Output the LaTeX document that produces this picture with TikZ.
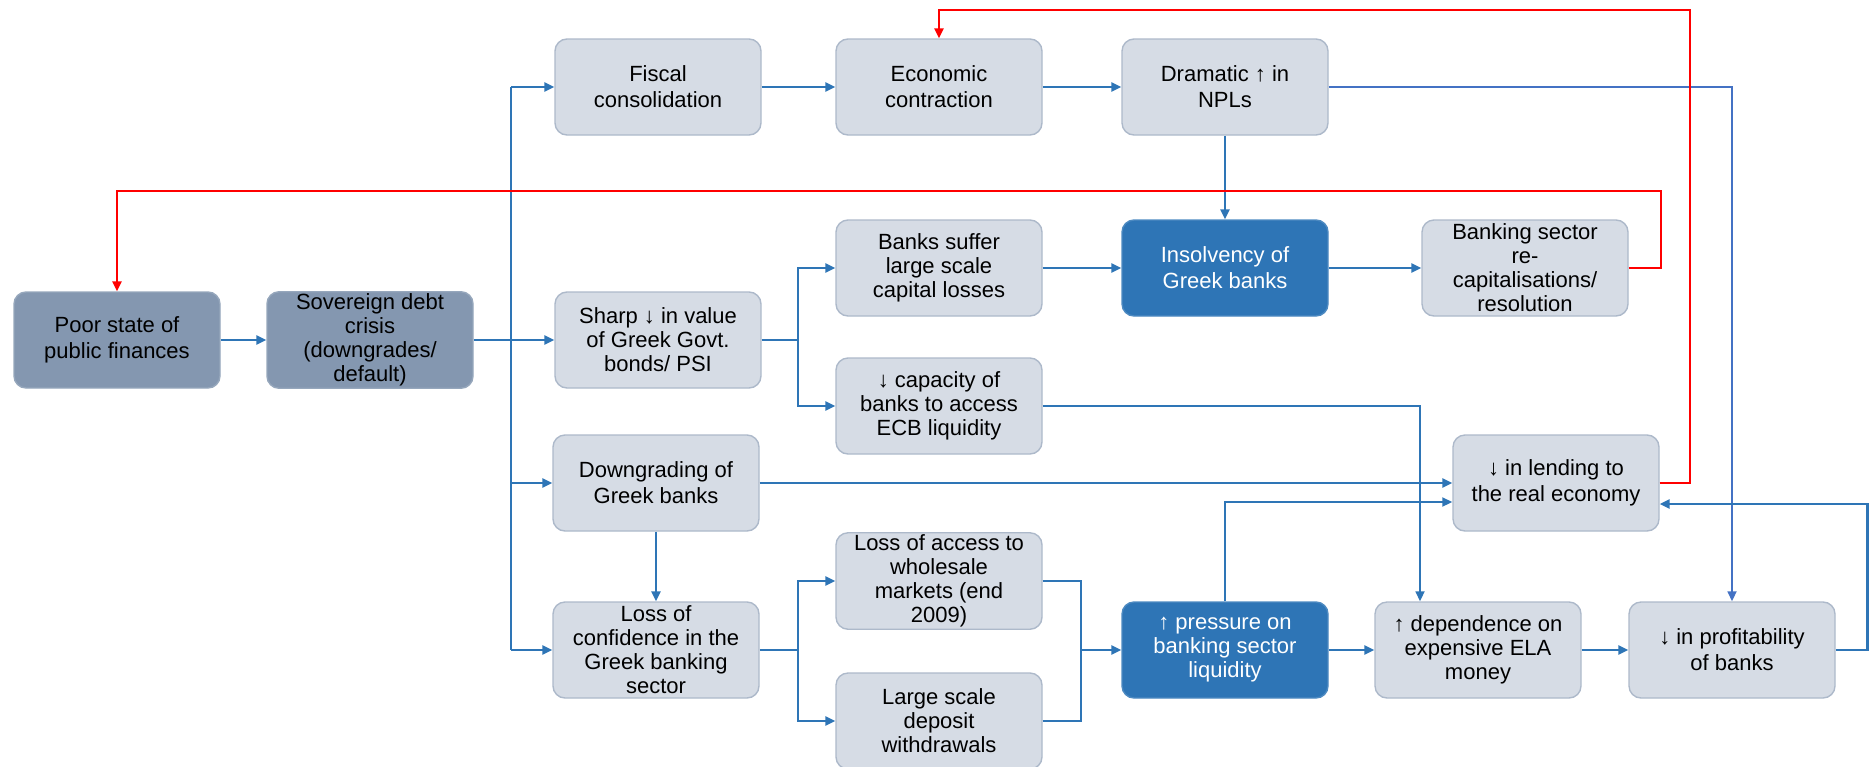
\documentclass[tikz,border=0pt]{standalone}
\usepackage{fontspec}
\setmainfont{Liberation Sans}
\usetikzlibrary{arrows.meta}
\definecolor{cellfill}{HTML}{D6DCE5}
\definecolor{cellline}{HTML}{ADB9CA}
\definecolor{slate}{HTML}{8497B0}
\definecolor{deepblue}{HTML}{2E75B6}
\definecolor{paleblue}{HTML}{4472C4}
\definecolor{loopred}{HTML}{FF0000}

\begin{document}
\begin{tikzpicture}[x=0.5pt,y=-0.5pt,
    cell/.style={draw=cellline,fill=cellfill,rounded corners=6pt,line width=0.7pt,
      minimum width=103pt,minimum height=48pt,inner sep=1pt,align=center,
      font=\fontsize{11}{13}\selectfont},
    tight/.style={font=\fontsize{11}{12}\selectfont},
    root/.style={cell,fill=slate,draw=slate!85!white},
    hot/.style={cell,fill=deepblue,draw=deepblue!85!white,text=white},
    link/.style={draw=deepblue,line width=1.4pt,-{Triangle[length=5pt,width=4.5pt]}},
    fine/.style={link,draw=paleblue,line width=0.9pt},
    loop/.style={draw=loopred,line width=1.2pt,-{Triangle[length=5pt,width=4.5pt]}}]
  \useasboundingbox (0,0) rectangle (1874,766);

  \node[root] (poor) at (117,340) {Poor state of\\public finances};
  \node[root,tight] (sov) at (370,340) {Sovereign debt\\crisis\\(downgrades/\\default)};
  \node[cell] (fiscal) at (658,87) {Fiscal\\consolidation};
  \node[cell] (econ) at (939,87) {Economic\\contraction};
  \node[cell] (npl) at (1225,87) {Dramatic ↑ in\\NPLs};
  \node[cell,tight] (sharp) at (658,340) {Sharp ↓ in value\\of Greek Govt.\\bonds/ PSI};
  \node[cell,tight] (losses) at (939,268) {Banks suffer\\large scale\\capital losses};
  \node[hot] (insolv) at (1225,268) {Insolvency of\\Greek banks};
  \node[cell,tight] (recap) at (1525,268) {Banking sector\\re-\\capitalisations/\\resolution};
  \node[cell,tight] (ecb) at (939,406) {↓ capacity of\\banks to access\\ECB liquidity};
  \node[cell] (downg) at (656,483) {Downgrading of\\Greek banks};
  \node[cell] (lending) at (1556,483) {↓ in lending to\\the real economy};
  \node[cell,tight] (conf) at (656,650) {Loss of\\confidence in the\\Greek banking\\sector};
  \node[cell,tight] (whole) at (939,581) {Loss of access to\\wholesale\\markets (end\\2009)};
  \node[cell,tight] (deposit) at (939,721) {Large scale\\deposit\\withdrawals};
  \node[hot,tight] (press) at (1225,650) {↑ pressure on\\banking sector\\liquidity};
  \node[cell,tight] (ela) at (1478,650) {↑ dependence on\\expensive ELA\\money};
  \node[cell] (profit) at (1732,650) {↓ in profitability\\of banks};

  \coordinate (trunk) at (511,87);
  \coordinate (trunkend) at (511,650);
  \coordinate (sharpfork) at (798,340);
  \coordinate (conffork) at (798,650);
  \coordinate (join) at (1081,650);
  \coordinate (ecbturn) at (1420,406);
  \coordinate (redlow) at (1661,191);
  \coordinate (redhigh) at (1690,10);

  \draw[link] (poor) -- (sov);
  \draw[link] (sov) -- (sharp);
  \draw[link,-] (trunk) -- (trunkend);
  \draw[link] (trunk) -- (fiscal);
  \draw[link] (trunk |- downg) -- (downg);
  \draw[link] (trunkend) -- (conf);
  \draw[link] (fiscal) -- (econ);
  \draw[link] (econ) -- (npl);
  \draw[link] (npl) -- (insolv);
  \draw[fine] (npl.east) -| (profit);
  \draw[link,-] (sharp) -- (sharpfork);
  \draw[link] (sharpfork) |- (losses);
  \draw[link] (sharpfork) |- (ecb);
  \draw[link] (losses) -- (insolv);
  \draw[link] (insolv) -- (recap);
  \draw[fine,draw=deepblue] (ecb.east) -- (ecbturn) -- (ecbturn |- ela.north);
  \draw[link] (downg) -- (lending);
  \draw[link] (downg) -- (conf);
  \draw[link,-] (conf) -- (conffork);
  \draw[link] (conffork) |- (whole);
  \draw[link] (conffork) |- (deposit);
  \draw[link,-] (whole.east) -| (join);
  \draw[link,-] (deposit.east) -| (join);
  \draw[link] (join) -- (press);
  \draw[fine,draw=deepblue] (press.north) |- ([yshift=-9.5pt]lending.west);
  \draw[link] (press) -- (ela);
  \draw[link] (ela) -- (profit);
  \draw[link] (profit.east) -- ++(32,0) |- ([yshift=-10.5pt]lending.east);

  \draw[loop] (recap.east) -| (redlow) -| (poor);
  \draw[loop] (lending.east) -| (redhigh) -| (econ);
\end{tikzpicture}
\end{document}
